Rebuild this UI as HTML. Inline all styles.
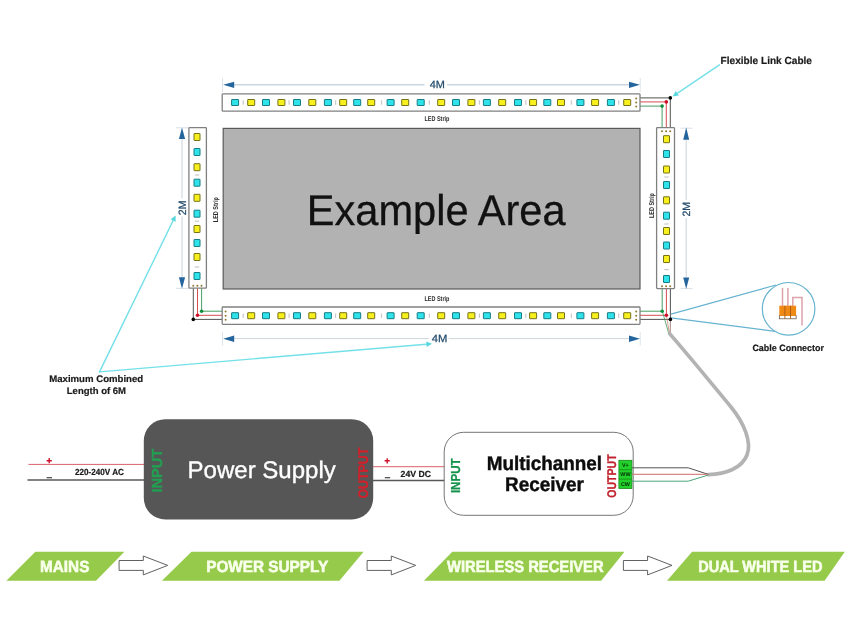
<!DOCTYPE html>
<html lang="en">
<head>
<meta charset="utf-8">
<title>Dual White LED Wiring Diagram</title>
<style>html,body{margin:0;padding:0;background:#fff}body{width:850px;height:638px;overflow:hidden}svg{display:block;will-change:transform}text{text-rendering:geometricPrecision}</style>
</head>
<body>
<svg width="850" height="638" viewBox="0 0 850 638" font-family="'Liberation Sans', sans-serif" role="img" aria-label="Dual white LED strip wiring diagram">
<rect width="850" height="638" fill="#fff"/>
<line x1="99.5" y1="371.9" x2="173.2" y2="220.4" stroke="#74e0e8" stroke-width="1.4" stroke-linecap="round"/>
<polygon points="175.6,215.4 175.7,221.7 170.6,219.2" fill="#58d8dd"/>
<line x1="99.5" y1="371.9" x2="426.4" y2="344.2" stroke="#74e0e8" stroke-width="1.4" stroke-linecap="round"/>
<polygon points="432.0,343.7 426.7,347.0 426.2,341.4" fill="#58d8dd"/>
<line x1="719.4" y1="64.8" x2="677.2" y2="93.3" stroke="#74e0e8" stroke-width="1.4" stroke-linecap="round"/>
<polygon points="672.6,96.4 675.7,90.9 678.8,95.6" fill="#58d8dd"/>
<rect x="223.2" y="128.4" width="416.8" height="160.6" fill="#b2b2b2" stroke="#5a5a5a" stroke-width="1.2"/>
<text x="306.8" y="225.4" font-size="43" fill="#111" stroke="#111" stroke-width="0.3" textLength="258.8" lengthAdjust="spacingAndGlyphs">Example Area</text>
<g stroke="#66b3d0" stroke-width="1.2" fill="none">
<line x1="671" y1="314.2" x2="776" y2="285"/>
<line x1="671" y1="317.8" x2="777" y2="331.6"/>
<circle cx="788.6" cy="308.8" r="26.3" fill="#fff"/>
</g>
<g stroke="#dda3ab" stroke-width="1.5" fill="none">
<line x1="782.5" y1="287.9" x2="782.5" y2="306"/>
<line x1="787.9" y1="287.9" x2="787.9" y2="306"/>
<polyline points="792.8,306 792.8,297.6 802,297.6 802,325.6"/>
</g>
<rect x="779.3" y="315.4" width="16.8" height="3.4" fill="#fff" stroke="#5a4a3a" stroke-width="0.7"/>
<rect x="779.3" y="305.7" width="16.8" height="10.2" fill="#f08a16"/>
<g stroke="#a85a10" stroke-width="0.9">
<line x1="784.9" y1="305.7" x2="784.9" y2="318.8"/>
<line x1="790.5" y1="305.7" x2="790.5" y2="318.8"/>
</g>
<g stroke="#cbd6e1" fill="none">
<path d="M234 84.8H424.6 M447 84.8H629" stroke-width="1.5"/>
<path d="M222.5 78V92 M640.2 78V92" stroke-width="1" stroke="#dde4ec"/>
<path d="M234 338.6H428.8 M448.6 338.6H629" stroke-width="0.9" stroke="#c9d3d8"/>
<path d="M222.5 332V345.5 M640.2 332V345.5" stroke-width="1" stroke="#dde4ec"/>
<path d="M182 139V198.5 M182 216.5V277" stroke-width="1.2" stroke="#d2dae3"/>
<path d="M176 127.8H188.5 M176 288.4H188.5" stroke-width="1" stroke="#d8e0e9"/>
<path d="M686.2 140V200 M686.2 218V277.5" stroke-width="1.2" stroke="#d2dae3"/>
<path d="M680.6 128.2H692.6 M680.6 288.6H692.6" stroke-width="1" stroke="#d8e0e9"/>
</g>
<g fill="#25659d">
<polygon points="223.2,84.8 234.2,81.7 234.2,88"/>
<polygon points="640,84.8 629,81.7 629,88"/>
<polygon points="223.2,338.7 234.2,335.6 234.2,341.9"/>
<polygon points="640,338.7 629,335.6 629,341.9"/>
<polygon points="182,127.6 178.9,139.1 185.1,139.1"/>
<polygon points="182,288.8 178.9,277.2 185.1,277.2"/>
<polygon points="686.2,127.6 683.2,139.8 689.2,139.8"/>
<polygon points="686.2,289 683.2,277.6 689.2,277.6"/>
</g>
<g fill="#234b6c" stroke="#234b6c" stroke-width="0.25" font-size="10.5" text-anchor="middle">
<text x="437.3" y="88.1" textLength="15.2" lengthAdjust="spacingAndGlyphs">4M</text>
<text x="439.6" y="342.2" textLength="15.6" lengthAdjust="spacingAndGlyphs">4M</text>
<text transform="translate(186.1,207.8) rotate(-90)" font-size="10.6">2M</text>
<text transform="translate(690.3,209.2) rotate(-90)" font-size="10.6">2M</text>
</g>
<g fill="none" stroke-width="0.95">
<path d="M640 97.9H670.3V128" stroke="#4a4a4a"/>
<path d="M640 101.9H666.3V128" stroke="#d2444a"/>
<path d="M640 106.1H662.1V128" stroke="#3c9a5a"/>
<path d="M193.3 288V319.4H222" stroke="#4a4a4a"/>
<path d="M197.5 288V315.3H222" stroke="#d2444a"/>
<path d="M201.6 288V311.2H222" stroke="#3c9a5a"/>
<path d="M640 311.2H662.2V288.6" stroke="#3c9a5a"/>
<path d="M640 315.3H666.4V288.6" stroke="#d2444a"/>
<path d="M640 319.4H670.4V288.6" stroke="#4a4a4a"/>
<path d="M662.4 311.4L668.6 333" stroke="#3c9a5a" stroke-width="0.8"/>
<path d="M666.4 315.4L669.4 333" stroke="#c98a7a" stroke-width="0.8"/>
<path d="M670.4 319.4L670.2 333" stroke="#8a6a5a" stroke-width="0.8"/>
</g>
<path d="M669.6 333.6 C 690 357, 712 384, 731 407 C 744 423, 752 442, 747 455 C 742 468, 726 474, 708.4 474.6" fill="none" stroke="#b3b3b3" stroke-width="3.7" stroke-linecap="round"/>
<circle cx="670.3" cy="97.9" r="1.8" fill="#000000"/>
<circle cx="666.3" cy="101.9" r="1.8" fill="#d0102a"/>
<circle cx="662.1" cy="106.1" r="1.8" fill="#0f8f3c"/>
<circle cx="193.3" cy="319.4" r="1.8" fill="#000000"/>
<circle cx="197.5" cy="315.3" r="1.8" fill="#d0102a"/>
<circle cx="201.6" cy="311.2" r="1.8" fill="#0f8f3c"/>
<circle cx="670.4" cy="319.4" r="1.8" fill="#000000"/>
<circle cx="666.4" cy="315.3" r="1.8" fill="#d0102a"/>
<circle cx="662.2" cy="311.2" r="1.8" fill="#0f8f3c"/>
<rect x="222.2" y="93.8" width="417.8" height="17.4" rx="0.8" fill="#fff" stroke="#808080" stroke-width="1.3"/>
<rect x="242.6" y="100.3" width="1.2" height="4.4" fill="#c9c9c9"/>
<rect x="288.5" y="100.3" width="1.2" height="4.4" fill="#c9c9c9"/>
<rect x="335.0" y="100.3" width="1.2" height="4.4" fill="#c9c9c9"/>
<rect x="380.9" y="100.3" width="1.2" height="4.4" fill="#c9c9c9"/>
<rect x="428.7" y="100.3" width="1.2" height="4.4" fill="#c9c9c9"/>
<rect x="478.8" y="100.3" width="1.2" height="4.4" fill="#c9c9c9"/>
<rect x="525.2" y="100.3" width="1.2" height="4.4" fill="#c9c9c9"/>
<rect x="570.8" y="100.3" width="1.2" height="4.4" fill="#c9c9c9"/>
<rect x="618.1" y="100.3" width="1.2" height="4.4" fill="#c9c9c9"/>
<rect x="231.6" y="99.5" width="7" height="6" rx="0.3" fill="#2fe3ea" stroke="#167c86" stroke-width="1"/>
<rect x="247.7" y="99.5" width="7" height="6" rx="0.3" fill="#f7f01c" stroke="#77721a" stroke-width="1"/>
<rect x="262.5" y="99.5" width="7" height="6" rx="0.3" fill="#2fe3ea" stroke="#167c86" stroke-width="1"/>
<rect x="277.9" y="99.5" width="7" height="6" rx="0.3" fill="#f7f01c" stroke="#77721a" stroke-width="1"/>
<rect x="293.5" y="99.5" width="7" height="6" rx="0.3" fill="#2fe3ea" stroke="#167c86" stroke-width="1"/>
<rect x="308.8" y="99.5" width="7" height="6" rx="0.3" fill="#f7f01c" stroke="#77721a" stroke-width="1"/>
<rect x="324.4" y="99.5" width="7" height="6" rx="0.3" fill="#2fe3ea" stroke="#167c86" stroke-width="1"/>
<rect x="339.7" y="99.5" width="7" height="6" rx="0.3" fill="#f7f01c" stroke="#77721a" stroke-width="1"/>
<rect x="353.7" y="99.5" width="7" height="6" rx="0.3" fill="#2fe3ea" stroke="#167c86" stroke-width="1"/>
<rect x="367.7" y="99.5" width="7" height="6" rx="0.3" fill="#f7f01c" stroke="#77721a" stroke-width="1"/>
<rect x="387.1" y="99.5" width="7" height="6" rx="0.3" fill="#2fe3ea" stroke="#167c86" stroke-width="1"/>
<rect x="401.7" y="99.5" width="7" height="6" rx="0.3" fill="#f7f01c" stroke="#77721a" stroke-width="1"/>
<rect x="417.2" y="99.5" width="7" height="6" rx="0.3" fill="#2fe3ea" stroke="#167c86" stroke-width="1"/>
<rect x="437.7" y="99.5" width="7" height="6" rx="0.3" fill="#f7f01c" stroke="#77721a" stroke-width="1"/>
<rect x="452.5" y="99.5" width="7" height="6" rx="0.3" fill="#2fe3ea" stroke="#167c86" stroke-width="1"/>
<rect x="467.9" y="99.5" width="7" height="6" rx="0.3" fill="#f7f01c" stroke="#77721a" stroke-width="1"/>
<rect x="483.4" y="99.5" width="7" height="6" rx="0.3" fill="#2fe3ea" stroke="#167c86" stroke-width="1"/>
<rect x="498.7" y="99.5" width="7" height="6" rx="0.3" fill="#f7f01c" stroke="#77721a" stroke-width="1"/>
<rect x="514.5" y="99.5" width="7" height="6" rx="0.3" fill="#2fe3ea" stroke="#167c86" stroke-width="1"/>
<rect x="529.6" y="99.5" width="7" height="6" rx="0.3" fill="#f7f01c" stroke="#77721a" stroke-width="1"/>
<rect x="543.8" y="99.5" width="7" height="6" rx="0.3" fill="#2fe3ea" stroke="#167c86" stroke-width="1"/>
<rect x="557.5" y="99.5" width="7" height="6" rx="0.3" fill="#f7f01c" stroke="#77721a" stroke-width="1"/>
<rect x="576.9" y="99.5" width="7" height="6" rx="0.3" fill="#2fe3ea" stroke="#167c86" stroke-width="1"/>
<rect x="591.6" y="99.5" width="7" height="6" rx="0.3" fill="#f7f01c" stroke="#77721a" stroke-width="1"/>
<rect x="607.4" y="99.5" width="7" height="6" rx="0.3" fill="#2fe3ea" stroke="#167c86" stroke-width="1"/>
<rect x="623.7" y="99.5" width="7" height="6" rx="0.3" fill="#f7f01c" stroke="#77721a" stroke-width="1"/>
<circle cx="636.2" cy="98.4" r="1.0" fill="#94782e"/>
<circle cx="636.2" cy="102.5" r="1.0" fill="#94782e"/>
<circle cx="636.2" cy="106.6" r="1.0" fill="#94782e"/>
<rect x="222.2" y="307.0" width="417.8" height="17.4" rx="0.8" fill="#fff" stroke="#808080" stroke-width="1.3"/>
<rect x="242.6" y="313.5" width="1.2" height="4.4" fill="#c9c9c9"/>
<rect x="288.5" y="313.5" width="1.2" height="4.4" fill="#c9c9c9"/>
<rect x="335.0" y="313.5" width="1.2" height="4.4" fill="#c9c9c9"/>
<rect x="380.9" y="313.5" width="1.2" height="4.4" fill="#c9c9c9"/>
<rect x="428.7" y="313.5" width="1.2" height="4.4" fill="#c9c9c9"/>
<rect x="478.8" y="313.5" width="1.2" height="4.4" fill="#c9c9c9"/>
<rect x="525.2" y="313.5" width="1.2" height="4.4" fill="#c9c9c9"/>
<rect x="570.8" y="313.5" width="1.2" height="4.4" fill="#c9c9c9"/>
<rect x="618.1" y="313.5" width="1.2" height="4.4" fill="#c9c9c9"/>
<rect x="231.6" y="312.7" width="7" height="6" rx="0.3" fill="#2fe3ea" stroke="#167c86" stroke-width="1"/>
<rect x="247.7" y="312.7" width="7" height="6" rx="0.3" fill="#f7f01c" stroke="#77721a" stroke-width="1"/>
<rect x="262.5" y="312.7" width="7" height="6" rx="0.3" fill="#2fe3ea" stroke="#167c86" stroke-width="1"/>
<rect x="277.9" y="312.7" width="7" height="6" rx="0.3" fill="#f7f01c" stroke="#77721a" stroke-width="1"/>
<rect x="293.5" y="312.7" width="7" height="6" rx="0.3" fill="#2fe3ea" stroke="#167c86" stroke-width="1"/>
<rect x="308.8" y="312.7" width="7" height="6" rx="0.3" fill="#f7f01c" stroke="#77721a" stroke-width="1"/>
<rect x="324.4" y="312.7" width="7" height="6" rx="0.3" fill="#2fe3ea" stroke="#167c86" stroke-width="1"/>
<rect x="339.7" y="312.7" width="7" height="6" rx="0.3" fill="#f7f01c" stroke="#77721a" stroke-width="1"/>
<rect x="353.7" y="312.7" width="7" height="6" rx="0.3" fill="#2fe3ea" stroke="#167c86" stroke-width="1"/>
<rect x="367.7" y="312.7" width="7" height="6" rx="0.3" fill="#f7f01c" stroke="#77721a" stroke-width="1"/>
<rect x="387.1" y="312.7" width="7" height="6" rx="0.3" fill="#2fe3ea" stroke="#167c86" stroke-width="1"/>
<rect x="401.7" y="312.7" width="7" height="6" rx="0.3" fill="#f7f01c" stroke="#77721a" stroke-width="1"/>
<rect x="417.2" y="312.7" width="7" height="6" rx="0.3" fill="#2fe3ea" stroke="#167c86" stroke-width="1"/>
<rect x="437.7" y="312.7" width="7" height="6" rx="0.3" fill="#f7f01c" stroke="#77721a" stroke-width="1"/>
<rect x="452.5" y="312.7" width="7" height="6" rx="0.3" fill="#2fe3ea" stroke="#167c86" stroke-width="1"/>
<rect x="467.9" y="312.7" width="7" height="6" rx="0.3" fill="#f7f01c" stroke="#77721a" stroke-width="1"/>
<rect x="483.4" y="312.7" width="7" height="6" rx="0.3" fill="#2fe3ea" stroke="#167c86" stroke-width="1"/>
<rect x="498.7" y="312.7" width="7" height="6" rx="0.3" fill="#f7f01c" stroke="#77721a" stroke-width="1"/>
<rect x="514.5" y="312.7" width="7" height="6" rx="0.3" fill="#2fe3ea" stroke="#167c86" stroke-width="1"/>
<rect x="529.6" y="312.7" width="7" height="6" rx="0.3" fill="#f7f01c" stroke="#77721a" stroke-width="1"/>
<rect x="543.8" y="312.7" width="7" height="6" rx="0.3" fill="#2fe3ea" stroke="#167c86" stroke-width="1"/>
<rect x="557.5" y="312.7" width="7" height="6" rx="0.3" fill="#f7f01c" stroke="#77721a" stroke-width="1"/>
<rect x="576.9" y="312.7" width="7" height="6" rx="0.3" fill="#2fe3ea" stroke="#167c86" stroke-width="1"/>
<rect x="591.6" y="312.7" width="7" height="6" rx="0.3" fill="#f7f01c" stroke="#77721a" stroke-width="1"/>
<rect x="607.4" y="312.7" width="7" height="6" rx="0.3" fill="#2fe3ea" stroke="#167c86" stroke-width="1"/>
<rect x="623.7" y="312.7" width="7" height="6" rx="0.3" fill="#f7f01c" stroke="#77721a" stroke-width="1"/>
<circle cx="225.6" cy="311.6" r="1.0" fill="#94782e"/>
<circle cx="225.6" cy="315.7" r="1.0" fill="#94782e"/>
<circle cx="225.6" cy="319.8" r="1.0" fill="#94782e"/>
<circle cx="636.2" cy="311.6" r="1.0" fill="#94782e"/>
<circle cx="636.2" cy="315.7" r="1.0" fill="#94782e"/>
<circle cx="636.2" cy="319.8" r="1.0" fill="#94782e"/>
<rect x="188.9" y="127.6" width="17.5" height="160.6" rx="0.8" fill="#fff" stroke="#808080" stroke-width="1.3"/>
<rect x="194.8" y="174.4" width="4.4" height="1.2" fill="#c9c9c9"/>
<rect x="194.8" y="220.6" width="4.4" height="1.2" fill="#c9c9c9"/>
<rect x="194.8" y="266.4" width="4.4" height="1.2" fill="#c9c9c9"/>
<rect x="194.0" y="133.5" width="6" height="7" rx="0.3" fill="#f7f01c" stroke="#77721a" stroke-width="1"/>
<rect x="194.0" y="148.5" width="6" height="7" rx="0.3" fill="#2fe3ea" stroke="#167c86" stroke-width="1"/>
<rect x="194.0" y="163.7" width="6" height="7" rx="0.3" fill="#f7f01c" stroke="#77721a" stroke-width="1"/>
<rect x="194.0" y="179.2" width="6" height="7" rx="0.3" fill="#2fe3ea" stroke="#167c86" stroke-width="1"/>
<rect x="194.0" y="194.3" width="6" height="7" rx="0.3" fill="#f7f01c" stroke="#77721a" stroke-width="1"/>
<rect x="194.0" y="210.2" width="6" height="7" rx="0.3" fill="#2fe3ea" stroke="#167c86" stroke-width="1"/>
<rect x="194.0" y="225.5" width="6" height="7" rx="0.3" fill="#f7f01c" stroke="#77721a" stroke-width="1"/>
<rect x="194.0" y="239.5" width="6" height="7" rx="0.3" fill="#2fe3ea" stroke="#167c86" stroke-width="1"/>
<rect x="194.0" y="253.5" width="6" height="7" rx="0.3" fill="#f7f01c" stroke="#77721a" stroke-width="1"/>
<rect x="194.0" y="272.5" width="6" height="7" rx="0.3" fill="#2fe3ea" stroke="#167c86" stroke-width="1"/>
<circle cx="193.3" cy="285.8" r="1.0" fill="#94782e"/>
<circle cx="197.4" cy="285.8" r="1.0" fill="#94782e"/>
<circle cx="201.5" cy="285.8" r="1.0" fill="#94782e"/>
<rect x="656.6" y="127.6" width="17.9" height="161.0" rx="0.8" fill="#fff" stroke="#808080" stroke-width="1.3"/>
<rect x="664.3" y="176.4" width="4.4" height="1.2" fill="#c9c9c9"/>
<rect x="664.3" y="223.4" width="4.4" height="1.2" fill="#c9c9c9"/>
<rect x="664.3" y="269.0" width="4.4" height="1.2" fill="#c9c9c9"/>
<rect x="663.5" y="135.7" width="6" height="7" rx="0.3" fill="#f7f01c" stroke="#77721a" stroke-width="1"/>
<rect x="663.5" y="150.5" width="6" height="7" rx="0.3" fill="#2fe3ea" stroke="#167c86" stroke-width="1"/>
<rect x="663.5" y="166.0" width="6" height="7" rx="0.3" fill="#f7f01c" stroke="#77721a" stroke-width="1"/>
<rect x="663.5" y="181.5" width="6" height="7" rx="0.3" fill="#2fe3ea" stroke="#167c86" stroke-width="1"/>
<rect x="663.5" y="196.8" width="6" height="7" rx="0.3" fill="#f7f01c" stroke="#77721a" stroke-width="1"/>
<rect x="663.5" y="212.2" width="6" height="7" rx="0.3" fill="#2fe3ea" stroke="#167c86" stroke-width="1"/>
<rect x="663.5" y="227.5" width="6" height="7" rx="0.3" fill="#f7f01c" stroke="#77721a" stroke-width="1"/>
<rect x="663.5" y="242.0" width="6" height="7" rx="0.3" fill="#2fe3ea" stroke="#167c86" stroke-width="1"/>
<rect x="663.5" y="255.5" width="6" height="7" rx="0.3" fill="#f7f01c" stroke="#77721a" stroke-width="1"/>
<rect x="663.5" y="275.5" width="6" height="7" rx="0.3" fill="#2fe3ea" stroke="#167c86" stroke-width="1"/>
<circle cx="662.0" cy="131.2" r="1.0" fill="#94782e"/>
<circle cx="666.1" cy="131.2" r="1.0" fill="#94782e"/>
<circle cx="670.2" cy="131.2" r="1.0" fill="#94782e"/>
<circle cx="662.0" cy="286.2" r="1.0" fill="#94782e"/>
<circle cx="666.1" cy="286.2" r="1.0" fill="#94782e"/>
<circle cx="670.2" cy="286.2" r="1.0" fill="#94782e"/>
<g fill="#2a2a2a" font-size="7" font-weight="bold">
<text transform="translate(424.4,120.9)" textLength="25" lengthAdjust="spacingAndGlyphs">LED Strip</text>
<text transform="translate(424.4,301.3)" textLength="25" lengthAdjust="spacingAndGlyphs">LED Strip</text>
<text transform="translate(218.2,222.2) rotate(-90)" textLength="25" lengthAdjust="spacingAndGlyphs">LED Strip</text>
<text transform="translate(653.5,218.1) rotate(-90)" textLength="25" lengthAdjust="spacingAndGlyphs">LED Strip</text>
</g>
<g fill="#1a1a1a" stroke="#1a1a1a" stroke-width="0.2" font-weight="bold">
<text x="720.6" y="64.1" font-size="10.3" textLength="91.4" lengthAdjust="spacingAndGlyphs">Flexible Link Cable</text>
<text x="752.4" y="351.2" font-size="9.2" textLength="71.6" lengthAdjust="spacingAndGlyphs">Cable Connector</text>
<text x="49.2" y="382.3" font-size="9.5" textLength="94" lengthAdjust="spacingAndGlyphs">Maximum Combined</text>
<text x="66.8" y="393.6" font-size="9.5" textLength="59.2" lengthAdjust="spacingAndGlyphs">Length of 6M</text>
</g>
<g fill="none">
<path d="M28.5 464.4H145" stroke="#d2444e" stroke-width="0.85"/>
<path d="M27.5 479.9H145" stroke="#585858" stroke-width="1.5"/>
<path d="M372 466.7H445" stroke="#d2444e" stroke-width="0.85"/>
<path d="M372 480.4H445" stroke="#585858" stroke-width="1.5"/>
<path d="M46.6 460.7H51.8 M49.2 458.1V463.3 M384.6 460.8H389.8 M387.2 458.2V463.4" stroke="#d0102a" stroke-width="1.4"/>
<path d="M46.6 477.8H52 M384.8 477.8H390.2" stroke="#222" stroke-width="1.1"/>
</g>
<g fill="#1a1a1a" stroke="#1a1a1a" stroke-width="0.2" font-weight="bold" font-size="8.9">
<text x="75" y="475.0" font-size="8.9" textLength="49" lengthAdjust="spacingAndGlyphs">220-240V AC</text>
<text x="400.6" y="477.2" textLength="30.4" lengthAdjust="spacingAndGlyphs">24V DC</text>
</g>
<rect x="143.8" y="419.2" width="229.4" height="100.3" rx="21.5" ry="21.5" fill="#565656"/>
<text x="187.6" y="477.8" font-size="24" fill="#fff" stroke="#fff" stroke-width="0.35" textLength="148.2" lengthAdjust="spacingAndGlyphs">Power Supply</text>
<text transform="translate(161.8,492.6) rotate(-90)" font-size="14.6" font-weight="bold" fill="#22a052" stroke="#22a052" stroke-width="0.3" textLength="43.8" lengthAdjust="spacingAndGlyphs">INPUT</text>
<text transform="translate(368.0,498.6) rotate(-90)" font-size="14" font-weight="bold" fill="#d41f2a" stroke="#d41f2a" stroke-width="0.3" textLength="51" lengthAdjust="spacingAndGlyphs">OUTPUT</text>
<rect x="444.2" y="432.3" width="189" height="83" rx="19.5" ry="19.5" fill="#fff" stroke="#666" stroke-width="0.9"/>
<g fill="#0c0c0c" stroke="#0c0c0c" stroke-width="0.4" font-weight="bold" font-size="19.8">
<text x="486.7" y="470" textLength="115.4" lengthAdjust="spacingAndGlyphs">Multichannel</text>
<text x="505" y="491.2" textLength="79" lengthAdjust="spacingAndGlyphs">Receiver</text>
</g>
<text transform="translate(459.9,493.1) rotate(-90)" font-size="13" font-weight="bold" fill="#15924a" stroke="#15924a" stroke-width="0.3" textLength="34.8" lengthAdjust="spacingAndGlyphs">INPUT</text>
<text transform="translate(616.3,497.7) rotate(-90)" font-size="12.6" font-weight="bold" fill="#c0202c" stroke="#c0202c" stroke-width="0.3" textLength="43.3" lengthAdjust="spacingAndGlyphs">OUTPUT</text>
<g fill="none" stroke-width="1">
<path d="M631.8 467.8H688.2L708.4 474.4" stroke="#555"/>
<path d="M631.8 474.3H708.4" stroke="#d98888" stroke-width="1.3"/>
<path d="M631.8 481.2H688.2L708.4 475" stroke="#4aa57a"/>
</g>
<rect x="618.9" y="460.3" width="13" height="28.2" fill="#22d12a" stroke="#178a1c" stroke-width="0.8"/>
<path d="M618.9 469.7H631.9 M618.9 479.1H631.9" stroke="#178a1c" stroke-width="0.8"/>
<g fill="#052805" font-weight="bold" font-size="5.4" text-anchor="middle">
<text x="625.4" y="466.9">V+</text>
<text x="625.4" y="476.3">WW</text>
<text x="625.4" y="485.7">CW</text>
</g>
<g fill="#95ca4a">
<polygon points="35.4,551.8 124.4,551.8 96.0,580.8 6.4,580.8"/>
<polygon points="191.5,551.8 363.6,551.8 339.4,580.8 161.9,580.8"/>
<polygon points="452.3,551.8 624.5,551.8 601.2,580.8 423.9,580.8"/>
<polygon points="692.1,551.8 844.8,551.8 824.6,580.8 667.0,580.8"/>
</g>
<g fill="#f8ffea" stroke="#f8ffea" stroke-width="0.6" font-weight="bold" font-size="16.1">
<text x="40.0" y="572.3" textLength="49.4" lengthAdjust="spacingAndGlyphs">MAINS</text>
<text x="206.2" y="572.3" textLength="122" lengthAdjust="spacingAndGlyphs">POWER SUPPLY</text>
<text x="447.0" y="572.3" textLength="156.6" lengthAdjust="spacingAndGlyphs">WIRELESS RECEIVER</text>
<text x="698.2" y="572.3" textLength="124.2" lengthAdjust="spacingAndGlyphs">DUAL WHITE LED</text>
</g>
<g fill="#fff" stroke="#585858" stroke-width="0.95" stroke-linejoin="miter">
<polygon points="119.1,560.5 143.3,560.5 143.3,556 167.7,565.4 143.3,574.9 143.3,570.4 119.1,570.4"/>
<polygon points="367.1,560.5 391.3,560.5 391.3,556 415.7,565.4 391.3,574.9 391.3,570.4 367.1,570.4"/>
<polygon points="623.4,560.5 647.6,560.5 647.6,556 672.0,565.4 647.6,574.9 647.6,570.4 623.4,570.4"/>
</g>
</svg>
</body>
</html>
